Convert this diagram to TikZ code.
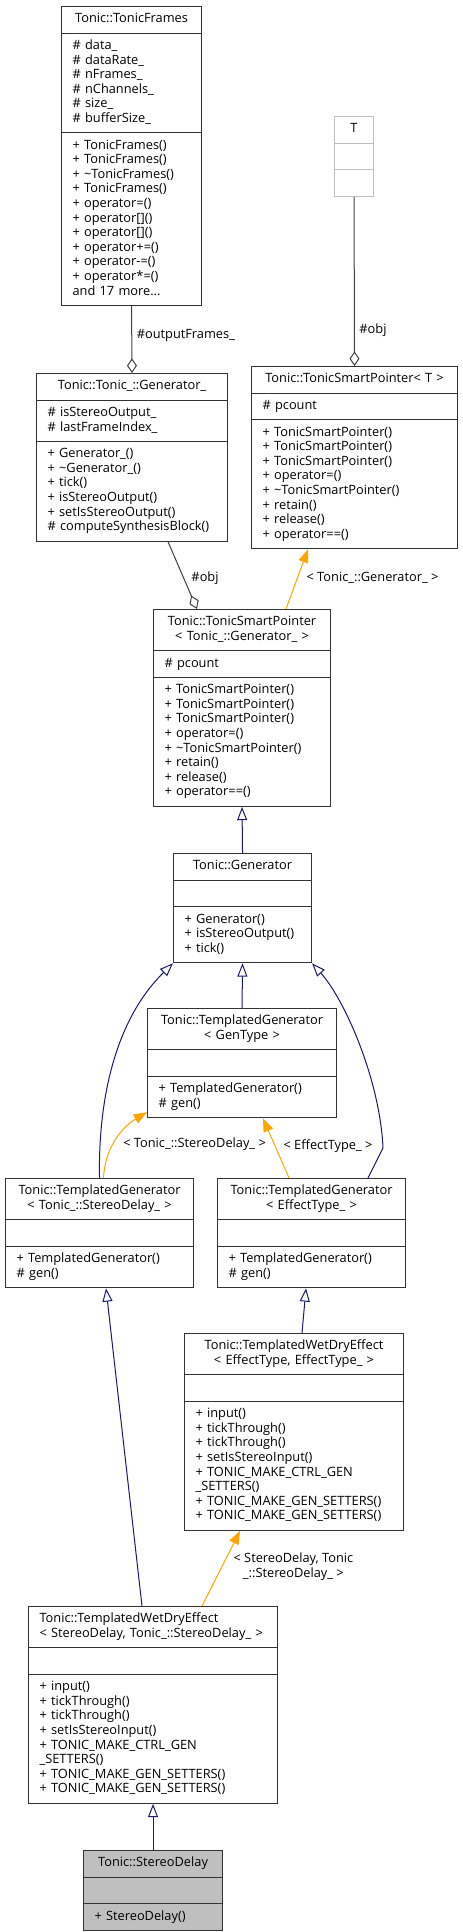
\documentclass[tikz,border=0pt]{standalone}
\usepackage{fontspec}
\setmainfont{Open Sans}
\usepackage{tikz}
\usetikzlibrary{positioning, shapes, arrows.meta, calc}

\definecolor{inheritblue}{HTML}{191970}
\definecolor{templorange}{HTML}{FFA500}
\definecolor{usegray}{HTML}{404040}
\definecolor{boxgray}{HTML}{BFBFBF}

\newcommand{\clsfont}{\fontsize{9.6}{10.95}\selectfont}
\newcommand{\clslines}[1]{\strut#1\strut}
\newcommand{\clstitle}[1]{\centering\strut#1\strut\par}

\begin{document}
\begin{tikzpicture}[x=0.75pt, y=-0.75pt,
    cls/.style={rectangle split, rectangle split parts=3, draw=black!80, line width=0.8pt,
      fill=white, anchor=north west, font=\clsfont, align=left,
      inner xsep=8.25pt, inner ysep=4.125pt, text width=#1},
    inherit/.style={draw=inheritblue, line width=0.75pt, -{Triangle[open, length=10pt, width=7.5pt]}},
    instance/.style={draw=templorange, line width=0.75pt, -{Triangle[length=10pt, width=7.5pt]}},
    usage/.style={draw=usegray, line width=0.75pt, -{Diamond[open, length=11pt, width=7.5pt]}},
    elabel/.style={font=\clsfont, anchor=west, inner sep=0pt}]
  \useasboundingbox (0,0) rectangle (462,1932);

  % used classes
  \node[cls=88.5pt] (frames) at (61,6) {\clstitle{Tonic::TonicFrames}
    \nodepart{two}\clslines{\# data\_\\\# dataRate\_\\\# nFrames\_\\\# nChannels\_\\\# size\_\\\# bufferSize\_}
    \nodepart{three}\clslines{+ TonicFrames()\\+ TonicFrames()\\+ \textasciitilde TonicFrames()\\+ TonicFrames()\\+ operator=()\\+ operator[]()\\+ operator[]()\\+ operator+=()\\+ operator-=()\\+ operator*=()\\and 17 more...}};
  \node[cls=12.75pt, draw=boxgray] (tparam) at (334,116) {\clstitle{T}
    \nodepart{two}\strut
    \nodepart{three}\strut};
  \node[cls=138pt] (tspt) at (251,366) {\clstitle{Tonic::TonicSmartPointer< T >}
    \nodepart{two}\clslines{\# pcount}
    \nodepart{three}\clslines{+ TonicSmartPointer()\\+ TonicSmartPointer()\\+ TonicSmartPointer()\\+ operator=()\\+ \textasciitilde TonicSmartPointer()\\+ retain()\\+ release()\\+ operator==()}};
  \node[cls=126.75pt] (genimpl) at (36,373) {\clstitle{Tonic::Tonic\_::Generator\_}
    \nodepart{two}\clslines{\# isStereoOutput\_\\\# lastFrameIndex\_}
    \nodepart{three}\clslines{+ Generator\_()\\+ \textasciitilde Generator\_()\\+ tick()\\+ isStereoOutput()\\+ setIsStereoOutput()\\\# computeSynthesisBlock()}};
  \node[cls=116.25pt] (tspgen) at (153,609) {\clstitle{Tonic::TonicSmartPointer\\< Tonic\_::Generator\_ >}
    \nodepart{two}\clslines{\# pcount}
    \nodepart{three}\clslines{+ TonicSmartPointer()\\+ TonicSmartPointer()\\+ TonicSmartPointer()\\+ operator=()\\+ \textasciitilde TonicSmartPointer()\\+ retain()\\+ release()\\+ operator==()}};

  % generator hierarchy
  \node[cls=87pt] (generator) at (173,853) {\clstitle{Tonic::Generator}
    \nodepart{two}\strut
    \nodepart{three}\clslines{+ Generator()\\+ isStereoOutput()\\+ tick()}};
  \node[cls=125.25pt] (tggen) at (147,1008) {\clstitle{Tonic::TemplatedGenerator\\< GenType >}
    \nodepart{two}\strut
    \nodepart{three}\clslines{+ TemplatedGenerator()\\\# gen()}};
  \node[cls=124.5pt] (tgsd) at (5,1178) {\clstitle{Tonic::TemplatedGenerator\\< Tonic\_::StereoDelay\_ >}
    \nodepart{two}\strut
    \nodepart{three}\clslines{+ TemplatedGenerator()\\\# gen()}};
  \node[cls=124.5pt] (tget) at (217,1178) {\clstitle{Tonic::TemplatedGenerator\\< EffectType\_ >}
    \nodepart{two}\strut
    \nodepart{three}\clslines{+ TemplatedGenerator()\\\# gen()}};
  \node[cls=147.75pt] (twdeet) at (184,1333) {\clstitle{Tonic::TemplatedWetDryEffect\\< EffectType, EffectType\_ >}
    \nodepart{two}\strut
    \nodepart{three}\clslines{+ input()\\+ tickThrough()\\+ tickThrough()\\+ setIsStereoInput()\\\mbox{+ TONIC\_MAKE\_CTRL\_GEN}\\\_SETTERS()\\\mbox{+ TONIC\_MAKE\_GEN\_SETTERS()}\\\mbox{+ TONIC\_MAKE\_GEN\_SETTERS()}}};
  \node[cls=170.25pt] (twdesd) at (28,1606) {\clslines{Tonic::TemplatedWetDryEffect\\\mbox{< StereoDelay, Tonic\_::StereoDelay\_ >}}
    \nodepart{two}\strut
    \nodepart{three}\clslines{+ input()\\+ tickThrough()\\+ tickThrough()\\+ setIsStereoInput()\\\mbox{+ TONIC\_MAKE\_CTRL\_GEN}\\\_SETTERS()\\\mbox{+ TONIC\_MAKE\_GEN\_SETTERS()}\\\mbox{+ TONIC\_MAKE\_GEN\_SETTERS()}}};
  \node[cls=87.75pt, fill=boxgray] (stereodelay) at (83,1850) {\clstitle{Tonic::StereoDelay}
    \nodepart{two}\strut
    \nodepart{three}\clslines{+ StereoDelay()}};

  % usage
  \draw[usage] (frames.south) -- node[elabel, pos=0.44, xshift=3.4pt] (lblframes) {\#outputFrames\_} (genimpl.north);
  \draw[usage] (tparam.south) -- node[elabel, pos=0.79, xshift=3.4pt] (lbltobj) {\#obj} (tspt.north);
  \draw[usage] ($(genimpl.south west)+(132,0)$) -- node[elabel, pos=0.54, xshift=5.5pt] (lblgenobj) {\#obj} ($(tspgen.north west)+(44,0)$);

  % template instances
  \draw[instance] ($(tspgen.north west)+(133,0)$) -- node[elabel, pos=0.52, xshift=6.5pt] (lblgen) {< Tonic\_::Generator\_ >} ($(tspt.south west)+(57,0)$);
  \draw[instance] ($(tgsd.north)+(4,0)$) .. controls (105,1145) and (125,1125) .. ($(tggen.south west)+(0,-6)$);
  \node[elabel] (lblsd) at ($(tgsd.north west)+(118,-34)$) {< Tonic\_::StereoDelay\_ >};
  \draw[instance] ($(tget.north west)+(72,0)$) -- node[elabel, pos=0.53, xshift=5.9pt] (lblet) {< EffectType\_ >} ($(tggen.south west)+(116,0)$);
  \draw[instance] ($(twdesd.north west)+(174,0)$) -- node[elabel, align=center, pos=0.52, xshift=8.5pt] (lblwd) {< StereoDelay, Tonic\\\_::StereoDelay\_ >} ($(twdeet.south west)+(56,0)$);

  % inheritance
  \draw[inherit] (generator.north) -- (tspgen.south);
  \draw[inherit] (tggen.north) -- (generator.south);
  \draw[inherit] (tgsd.north) .. controls (98,1100) and (115,1020) .. (generator.south west);
  \draw[inherit] ($(tget.north west)+(151,0)$) -- (383,1148) .. controls (380,1080) and (345,1000) .. (generator.south east);
  \draw[inherit] ($(twdeet.north west)+(118,0)$) -- ($(tget.south west)+(89,0)$);
  \draw[inherit] ($(twdesd.north west)+(114,0)$) -- ($(tgsd.south west)+(101,0)$);
  \draw[inherit] (stereodelay.north) -- (twdesd.south);
\end{tikzpicture}
\end{document}
